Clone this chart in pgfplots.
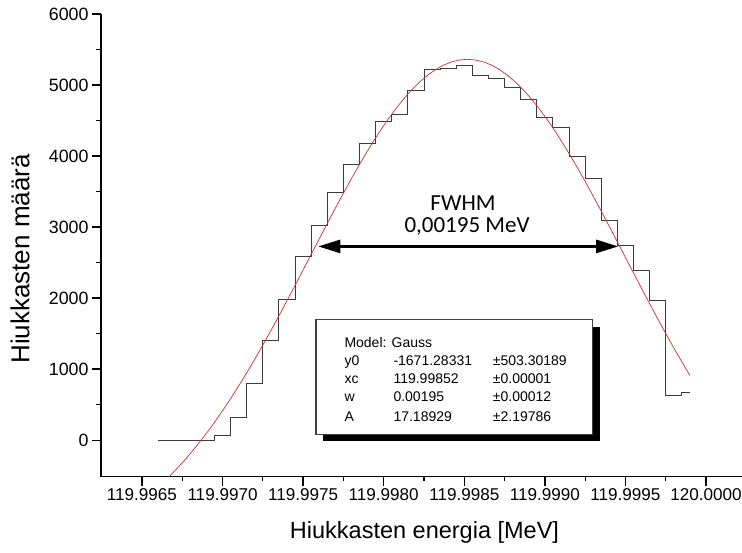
\documentclass[border=0pt]{standalone}
\usepackage{fontspec}
\setmainfont{Liberation Sans}
\newfontfamily\calibri{Carlito}
\usepackage{pgfplots}
\usepackage{pgfplotstable}
\pgfplotsset{compat=1.18}
\usetikzlibrary{arrows.meta}
\definecolor{fitred}{RGB}{205,45,45}
\definecolor{histgray}{RGB}{60,60,60}

% x is stored as (E - 119.996 MeV) * 10000
\pgfplotstableread{
X Y
6 0
7 0
8 0
9 0
10 70
11 323
12 797
13 1411
14 1979
15 2592
16 3024
17 3492
18 3878
19 4173
20 4482
21 4589
22 4923
23 5222
24 5228
25 5270
26 5134
27 5096
28 4961
29 4792
30 4539
31 4398
32 3990
33 3689
34 3098
35 2743
36 2391
37 1969
38 637
39 671
}\histdata

\pgfplotstableread{
X Y
6.2 -618.0
6.7 -508.9
7.2 -391.7
7.7 -266.5
8.2 -133.1
8.7 8.6
9.2 158.4
9.7 316.5
10.2 482.5
10.7 656.2
11.2 837.4
11.7 1025.5
12.2 1220.1
12.7 1420.7
13.2 1626.5
13.7 1836.8
14.2 2050.6
14.7 2267.1
15.2 2485.2
15.7 2703.9
16.2 2922.1
16.7 3138.4
17.2 3351.7
17.7 3560.7
18.2 3764.1
18.7 3960.5
19.2 4148.7
19.7 4327.4
20.2 4495.3
20.7 4651.3
21.2 4794.3
21.7 4923.1
22.2 5036.7
22.7 5134.5
23.2 5215.5
23.7 5279.2
24.2 5325.0
24.7 5352.7
25.2 5361.9
25.7 5352.7
26.2 5325.0
26.7 5279.2
27.2 5215.5
27.7 5134.5
28.2 5036.7
28.7 4923.1
29.2 4794.3
29.7 4651.3
30.2 4495.3
30.7 4327.4
31.2 4148.7
31.7 3960.5
32.2 3764.1
32.7 3560.7
33.2 3351.7
33.7 3138.4
34.2 2922.1
34.7 2703.9
35.2 2485.2
35.7 2267.1
36.2 2050.6
36.7 1836.8
37.2 1626.5
37.7 1420.7
38.2 1220.1
38.7 1025.5
39.0 911.8
}\fitdata

\begin{document}
\begin{tikzpicture}
\begin{axis}[
  scale only axis, width=641pt, height=462.5pt,
  xmin=2.46, xmax=42.23, ymin=-510, ymax=6000,
  axis x line*=bottom, axis y line*=left,
  axis line style={line width=1.6pt, black},
  xtick={5,10,...,40},
  xticklabels={119.9965,119.9970,119.9975,119.9980,119.9985,119.9990,119.9995,120.0000},
  ytick={0,1000,...,6000},
  minor x tick num=1, minor y tick num=1,
  tick align=outside,
  major tick length=9pt, minor tick length=4.5pt,
  major tick style={black, line width=1.5pt},
  minor tick style={black, line width=1.3pt},
  tick label style={font=\fontsize{17.1}{18}\selectfont},
  yticklabel style={font=\fontsize{17.8}{18}\selectfont},
  /pgf/number format/assume math mode=true,
  /pgf/number format/1000 sep={},
  xlabel={Hiukkasten energia [MeV]},
  ylabel={Hiukkasten määrä},
  every axis x label/.style={at={(axis description cs:0.5,0)}, anchor=center, yshift=-56pt, xshift=3pt, font=\fontsize{23.5}{24}\selectfont},
  every axis y label/.style={at={([shift={(-81pt,-13.7pt)}]axis description cs:0,0.5)}, rotate=90, anchor=center, font=\fontsize{26}{27}\selectfont},
]
\addplot[const plot mark mid, histgray, line width=0.9pt, no marks] table[x=X,y=Y] {\histdata};
\addplot[fitred, line width=0.7pt, no marks] table[x=X,y=Y] {\fitdata};

\draw[{Triangle[length=22pt,width=13pt]}-{Triangle[length=22pt,width=13pt]}, line width=2.6pt] (axis cs:15.94,2728.5) -- (axis cs:34.55,2728.5);
\node[font=\calibri\fontsize{23}{24}\selectfont] at (axis cs:24.92,3333) {FWHM};
\node[font=\calibri\fontsize{23}{24}\selectfont] at (axis cs:25.17,3010) {0,00195 MeV};

\fill[black] ([shift={(7pt,-7pt)}]axis cs:15.80,1697.6) rectangle ([shift={(7pt,-7pt)}]axis cs:32.97,84.4);
\draw[fill=white, draw=black!75, line width=1.3pt] (axis cs:15.80,1697.6) rectangle (axis cs:32.97,84.4);
\begin{scope}[every node/.style={anchor=base west, inner sep=0pt, font=\fontsize{14}{15}\selectfont}]
\node at (axis cs:17.556,1312) {Model: Gauss};
\node at (axis cs:17.556,1055) {y0};
\node at (axis cs:20.596,1055) {-1671.28331};
\node at (axis cs:26.762,1055) {±503.30189};
\node at (axis cs:17.556,797) {xc};
\node at (axis cs:20.596,797) {119.99852};
\node at (axis cs:26.762,797) {±0.00001};
\node at (axis cs:17.556,539) {w};
\node at (axis cs:20.596,539) {0.00195};
\node at (axis cs:26.762,539) {±0.00012};
\node at (axis cs:17.556,271) {A};
\node at (axis cs:20.596,271) {17.18929};
\node at (axis cs:26.762,271) {±2.19786};
\end{scope}
\end{axis}
\pgfresetboundingbox
\path[use as bounding box] ([shift={(-101pt,-75.5pt)}]current axis.south west) rectangle ([shift={(0pt,14pt)}]current axis.north east);
\end{tikzpicture}
\end{document}
